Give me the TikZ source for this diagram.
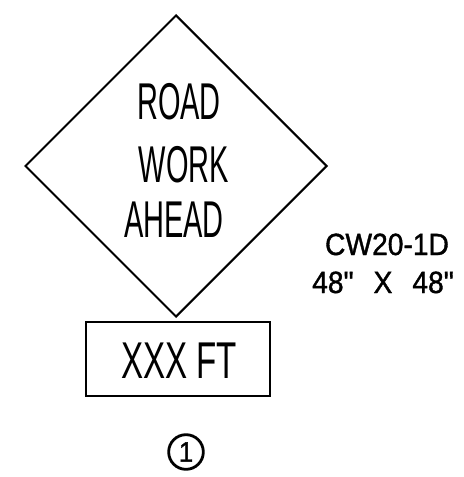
\documentclass[tikz,border=0pt]{standalone}
\usepackage{fontspec}
\usepackage{tikz}
\usetikzlibrary{positioning,shapes}
\newfontfamily\signfont[FakeStretch=0.56]{Liberation Sans}
\newfontfamily\platefont[FakeStretch=0.64]{Liberation Sans}
\newfontfamily\tagfont[FakeStretch=0.92,FakeBold=1.2]{Liberation Sans}

\begin{document}
\begin{tikzpicture}[x=0.75pt,y=-0.75pt,line join=miter,
    signtext/.style={anchor=base,inner sep=0pt,font=\signfont\fontsize{38.8}{46}\selectfont},
    tagtext/.style={anchor=base,inner sep=0pt,font=\tagfont\fontsize{23}{28}\selectfont}]

        \useasboundingbox (0,0) rectangle (463,477);

        \node[draw=black,line width=1.5pt,diamond,minimum width=226.5pt,minimum height=226.5pt,inner sep=0pt] (sign) at (176,166) {};

        \node[signtext] (road) at (179,120) {ROAD};
        \node[signtext] (work) at (184,182) {WORK};
        \node[signtext] (ahead) at (174,237) {AHEAD};

        \node[draw=black,line width=1.5pt,rectangle,minimum width=138pt,minimum height=55.5pt,inner sep=0pt] (plate) at (178,359) {};
        \node[anchor=base,inner sep=0pt,font=\platefont\fontsize{38.8}{46}\selectfont] (dist) at (179,378) {XXX FT};

        \node[tagtext] (code) at (387,255) {CW20-1D};
        \node[tagtext] (size) at (383,293) {48"\hspace{15pt}X\hspace{15pt}48"};

        \node[draw=black,line width=2.1pt,circle,minimum size=26pt,inner sep=0pt,font=\tagfont\fontsize{21}{24}\selectfont] (num) at (186,452) {1};
    \end{tikzpicture}
\end{document}
